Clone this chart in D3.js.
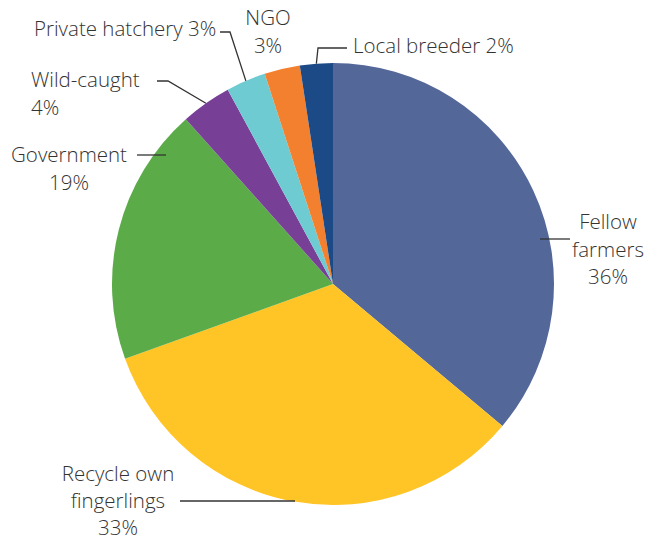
<!DOCTYPE html>
<html>
<head>
<meta charset="utf-8">
<script src="https://cdn.jsdelivr.net/npm/d3@7"></script>
<style>
  html, body { margin: 0; padding: 0; background: #fff; }
  svg { display: block; }
  .lbl { font-family: "Open Sans", sans-serif; font-weight: 300; font-size: 20.5px; fill: #333; }
  .leader { fill: none; stroke: #333; stroke-width: 1.3; }
</style>
</head>
<body>
<svg id="chart" width="645" height="541"></svg>
<script>
// Sources of fingerlings (share of farmers, %)
const categories = ["Fellow farmers", "Recycle own fingerlings", "Government", "Wild-caught",
                    "Private hatchery", "NGO", "Local breeder"];
const shares = [36.1, 33.4, 18.9, 3.7, 2.9, 2.6, 2.4];
const colors = ["#546799", "#FFC425", "#5BAC48", "#774096", "#6FCBD2", "#F3802F", "#1C4A87"];

// Label text broken into lines; "{v}" is replaced by the rounded share
const labelLines = [
  ["Fellow", "farmers", "{v}"],
  ["Recycle own", "fingerlings", "{v}"],
  ["Government", "{v}"],
  ["Wild-caught", "{v}"],
  ["Private hatchery {v}"],
  ["NGO", "{v}"],
  ["Local breeder {v}"]
];

const width = 645, height = 541;
const cx = 333, cy = 284, radius = 221;
const lineH = 27.5;

// Label placement: anchor point of first baseline, alignment, and leader line
// leader: "mid" = elbow then straight to the slice's mid-angle on the rim,
//         "h"   = plain horizontal segment
const layout = [
  { x: 608, y: 229, anchor: "middle", leader: { type: "h", y: 239, x1: 570, x2: 540 } },
  { x: 118, y: 481, anchor: "middle", leader: { type: "h", y: 501, x1: 180, x2: 295 } },
  { x: 69,  y: 162, anchor: "middle", leader: { type: "h", y: 155, x1: 137, x2: 166 } },
  { x: 31,  y: 87,  anchor: "start",  leader: { type: "mid", start: [157, 81], elbow: [168, 81] } },
  { x: 34,  y: 36,  anchor: "start",  leader: { type: "mid", start: [220, 32], elbow: [230, 32] } },
  { x: 268, y: 25,  anchor: "middle", leader: null },
  { x: 353, y: 53,  anchor: "start",  leader: { type: "mid", start: [347, 48], elbow: [318, 48] } }
];

const data = categories.map((c, i) => ({ name: c, value: shares[i], color: colors[i], i }));

const svg = d3.select("#chart");
const g = svg.append("g").attr("transform", `translate(${cx},${cy})`);

const pie = d3.pie().value(d => d.value).sort(null);
const arc = d3.arc().innerRadius(0).outerRadius(radius);
const arcs = pie(data);

g.selectAll("path.slice")
  .data(arcs)
  .join("path")
  .attr("class", "slice")
  .attr("d", arc)
  .attr("fill", d => d.data.color);

const fmt = v => Math.round(v) + "%";

// Leader lines
arcs.forEach((a, i) => {
  const L = layout[i].leader;
  if (!L) return;
  let pts;
  if (L.type === "h") {
    pts = [[L.x1, L.y], [L.x2, L.y]];
  } else {
    const mid = (a.startAngle + a.endAngle) / 2;
    const rim = [cx + radius * Math.sin(mid), cy - radius * Math.cos(mid)];
    pts = [L.start, L.elbow, rim];
  }
  svg.append("path")
    .attr("class", "leader")
    .attr("d", d3.line()(pts));
});

// Labels
arcs.forEach((a, i) => {
  const lay = layout[i];
  const t = svg.append("text")
    .attr("class", "lbl")
    .attr("text-anchor", lay.anchor);
  labelLines[i].forEach((ln, k) => {
    t.append("tspan")
      .attr("x", lay.x)
      .attr("y", lay.y + k * (i === 1 ? 27 : lineH))
      .text(ln.replace("{v}", fmt(a.data.value)));
  });
});
</script>
</body>
</html>
